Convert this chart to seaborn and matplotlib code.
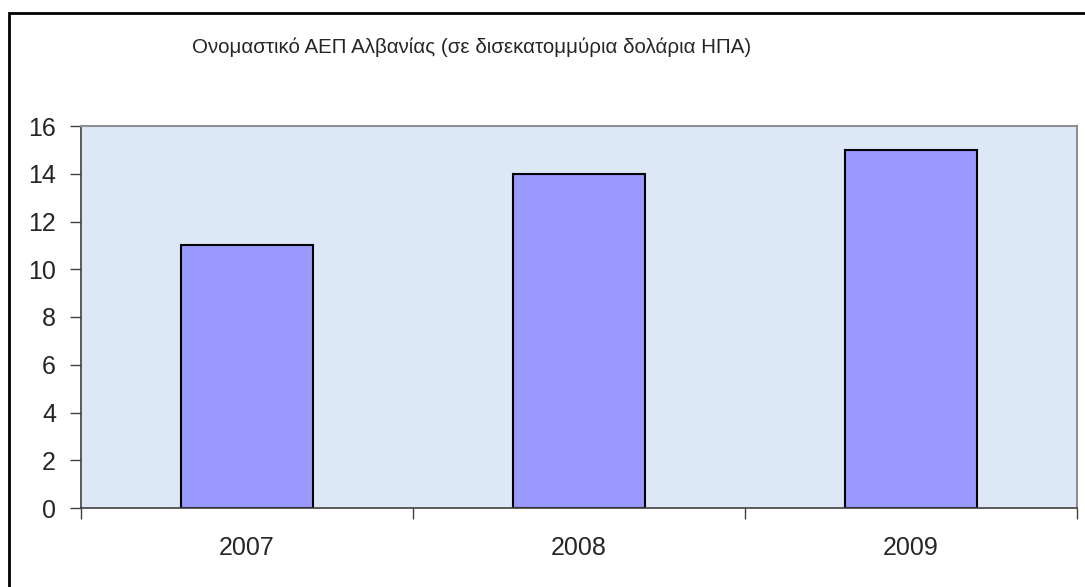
import matplotlib
matplotlib.use("Agg")
import matplotlib.pyplot as plt
import seaborn as sns
import pandas as pd
from matplotlib.patches import Rectangle

years = ["2007", "2008", "2009"]
gdp = [11, 14, 15]
title = "Ονομαστικό ΑΕΠ Αλβανίας (σε δισεκατομμύρια δολάρια ΗΠΑ)"
yticks = [0, 2, 4, 6, 8, 10, 12, 14, 16]

sns.set_style("white")
plt.rcParams['font.family'] = ['Liberation Sans', 'DejaVu Sans']

df = pd.DataFrame({"year": years, "gdp": gdp})

fig = plt.figure(figsize=(10.85, 5.87), dpi=100)
fig.patch.set_facecolor("white")

# chart frame (right and bottom edges run off the picture)
fig.patches.append(Rectangle((9 / 1085, -0.05), 1.2, 1 - 13 / 587 + 0.05,
                             transform=fig.transFigure, fill=False,
                             edgecolor="black", linewidth=2))

ax = fig.add_axes([81 / 1085, 1 - 508 / 587, 996 / 1085, 382 / 587])
ax.set_facecolor("#DCE8F6")
sns.barplot(data=df, x="year", y="gdp", color="#9999FF", width=0.4,
            edgecolor="black", linewidth=1.5, saturation=1, ax=ax)
ax.set_xlim(-0.5, 2.5)
ax.set_ylim(0, 16)
ax.set_yticks(yticks)
ax.set_xlabel("")
ax.set_ylabel("")

# ticks at category borders, labels at centres
ax.set_xticks([-0.5, 0.5, 1.5, 2.5])
ax.set_xticklabels([])
ax.set_xticks([0, 1, 2], minor=True)
ax.set_xticklabels(years, minor=True)
ax.tick_params(axis="x", which="major", direction="out", length=8, width=1, color="#404040", bottom=True)
ax.tick_params(axis="x", which="minor", length=0, pad=20, labelsize=18)
ax.tick_params(axis="y", direction="out", length=8, width=1, color="#404040", left=True, pad=10, labelsize=18)

for side in ["top", "right"]:
    ax.spines[side].set_color("#909090")
    ax.spines[side].set_linewidth(1.5)
for side in ["left", "bottom"]:
    ax.spines[side].set_color("#404040")
    ax.spines[side].set_linewidth(1.2)

fig.text(472 / 1085, 1 - 47 / 587, title, ha="center", va="center", fontsize=14.8)

fig.savefig("out.png", dpi=100)
